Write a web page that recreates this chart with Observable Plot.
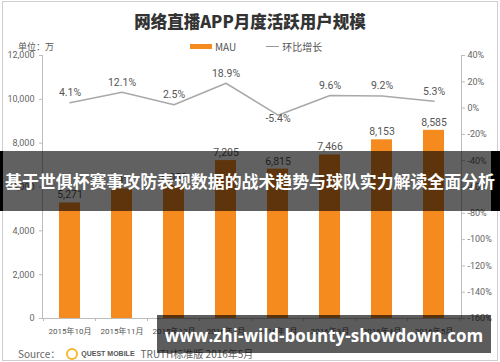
<!DOCTYPE html>
<html>
<head>
<meta charset="utf-8">
<script src="https://cdn.jsdelivr.net/npm/d3@7"></script>
<script src="https://cdn.jsdelivr.net/npm/@observablehq/plot@0.6"></script>
<style>
  html, body { margin: 0; padding: 0; background: #fff; }
  #wrap { position: relative; width: 500px; height: 362px; overflow: hidden; font-family: "Noto Sans CJK SC", "Noto Sans", sans-serif; }
  #wrap svg { position: absolute; left: 0; top: 0; }
  .abs { position: absolute; white-space: nowrap; }
  #border { left: 2px; top: 1px; width: 494px; height: 358px; border: 1px solid #cfcfcf; }
  #title { left: 0; width: 500px; top: 9px; text-align: center; font-size: 16.5px; font-weight: 900; color: #333; }
  #unit { left: 18px; top: 40px; font-size: 9px; color: #555; }
  #legend { left: 190px; top: 39px; font-size: 10px; color: #555; display: flex; align-items: center; }
  .swatch { display: inline-block; width: 22px; height: 5px; background: #F58A1F; margin-right: 3px; }
  .lsw { display: inline-block; width: 13px; height: 1px; background: #999; margin-left: 30px; margin-right: 3px; }
  #source { left: 18px; top: 346px; font-size: 10px; color: #666; display: flex; align-items: center; }
  .logo { display: inline-block; width: 8px; height: 8px; border-radius: 50%; border: 2px solid #F5B82E; margin: 0 3px 0 6px; }
  .qm { font-family: "Liberation Sans", sans-serif; font-weight: 700; font-size: 7px; color: #555; margin-right: 6px; }
  #band { left: 0; top: 151px; width: 500px; height: 60px; background: rgba(0,0,0,0.62); }
  #bandL { left: 0; top: 151px; width: 3px; height: 60px; background: #000; }
  #bandR { left: 491px; top: 151px; width: 9px; height: 60px; background: #000; }
  #bandText { left: -10px; width: 520px; top: 170px; text-align: center; color: #fff; font-weight: 700; font-size: 16.9px; line-height: 22px; }
  #box { left: 157px; top: 315px; width: 334px; height: 38px; background: rgba(0,0,0,0.64); }
  #boxText { left: 157px; width: 334px; top: 325px; text-align: center; color: #fff; font-family: "Open Sans", sans-serif; font-weight: 700; font-size: 17px; line-height: 22px; }
</style>
</head>
<body>
<div id="wrap">
  <div id="chart"></div>
  <div class="abs" id="border"></div>
  <div class="abs" id="title">网络直播APP月度活跃用户规模</div>
  <div class="abs" id="unit">单位：万</div>
  <div class="abs" id="legend"><span class="swatch"></span>MAU<span class="lsw"></span>环比增长</div>
  <div class="abs" id="source">Source：<span class="logo"></span><span class="qm">QUEST MOBILE</span>TRUTH标准版 2016年5月</div>
  <div class="abs" id="band"></div>
  <div class="abs" id="bandL"></div>
  <div class="abs" id="bandR"></div>
  <div class="abs" id="bandText">基于世俱杯赛事攻防表现数据的战术趋势与球队实力解读全面分析</div>
  <div class="abs" id="box"></div>
  <div class="abs" id="boxText">www.zhi-wild-bounty-showdown.com</div>
</div>
<script>
const months = ["2015年10月", "2015年11月", "2015年12月", "2016年1月", "2016年2月", "2016年3月", "2016年4月", "2016年5月"];
const mau = [5271, 5911, 6059, 7205, 6815, 7466, 8153, 8585];
const growth = [4.1, 12.1, 2.5, 18.9, -5.4, 9.6, 9.2, 5.3];
const leftTicks = [0, 2000, 4000, 6000, 8000, 10000, 12000];
const rightTicks = [-160, -140, -120, -100, -80, -60, -40, -20, 0, 20, 40];

const data = months.map((m, i) => ({ month: m, mau: mau[i], g: growth[i] }));
// map right-axis percentage onto the shared y scale: -160% -> 0, 40% -> 12000
const pctToY = p => (p + 160) * 60;
const yToPct = v => v / 60 - 160;

const orange = "#F58A1F";
const grayLine = "#a9a9a9";
const labelColor = "#555";

const plot = Plot.plot({
  width: 500,
  height: 362,
  marginLeft: 42,
  marginRight: 39,
  marginTop: 55,
  marginBottom: 44,
  style: { fontFamily: "Roboto, 'Noto Sans CJK SC', sans-serif", background: "transparent", overflow: "visible" },
  x: { type: "band", domain: months, paddingInner: 0.6, paddingOuter: 0.3, label: null },
  y: { domain: [0, 12000], label: null },
  marks: [
    Plot.frame({ anchor: "left", stroke: "#bdbdbd" }),
    Plot.frame({ anchor: "right", stroke: "#bdbdbd" }),
    Plot.ruleY([0], { stroke: "#bdbdbd" }),
    Plot.barY(data, { x: "month", y: "mau", fill: orange }),
    Plot.text(data, { x: "month", y: "mau", text: d => d3.format(",")(d.mau), dy: -8, fill: labelColor, fontSize: 10.5 }),
    Plot.lineY(data, { x: "month", y: d => pctToY(d.g), stroke: grayLine, strokeWidth: 1.5 }),
    Plot.text(data.filter(d => d.g >= 0), { x: "month", y: d => pctToY(d.g), text: d => d.g.toFixed(1) + "%", dy: -10, fill: labelColor, fontSize: 10.5 }),
    Plot.text(data.filter(d => d.g < 0), { x: "month", y: d => pctToY(d.g), text: d => d.g.toFixed(1) + "%", dy: 3, fill: labelColor, fontSize: 10.5 }),
    Plot.axisY({ anchor: "left", ticks: leftTicks, tickFormat: d3.format(","), tickSize: 3, tickPadding: 5, fontSize: 9, color: "#666", stroke: "#bdbdbd", label: null }),
    Plot.axisY({ anchor: "right", ticks: rightTicks.map(pctToY), tickFormat: v => Math.round(yToPct(v)) + "%", tickSize: 3, tickPadding: 3, fontSize: 9, color: "#666", stroke: "#bdbdbd", label: null }),
    Plot.axisX({ anchor: "bottom", tickSize: 0, tickPadding: 10, fontSize: 8, color: "#555", label: null })
  ]
});
document.getElementById("chart").appendChild(plot);

// category boundary tick marks on the x axis
const xs = plot.scale("x");
const ys = plot.scale("y");
const y0 = ys.apply(0);
const svg = d3.select(plot);
const bounds = [];
months.forEach((m, i) => {
  const c = xs.apply(m) + xs.bandwidth / 2;
  if (i === 0) bounds.push(c - xs.step / 2);
  bounds.push(c + xs.step / 2);
});
svg.append("g").selectAll("line").data(bounds).join("line")
  .attr("x1", d => d).attr("x2", d => d)
  .attr("y1", y0).attr("y2", y0 + 3)
  .attr("stroke", "#bdbdbd");
</script>
</body>
</html>
